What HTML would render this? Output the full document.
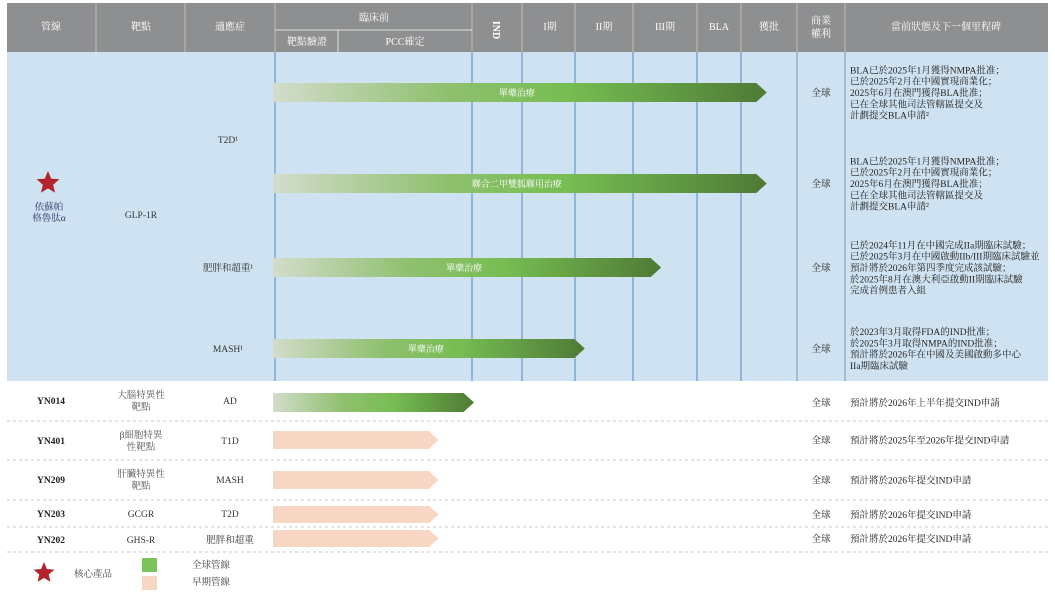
<!DOCTYPE html>
<html><head><meta charset="utf-8">
<style>
body{margin:0;width:1055px;height:599px;background:#fff;overflow:hidden;font-family:"Liberation Serif","Noto Serif CJK SC","Noto Sans CJK TC",serif;}
#c{position:absolute;left:0;top:0}
</style></head><body>
<svg id="c" width="1055" height="599" xmlns="http://www.w3.org/2000/svg">
<defs>
<linearGradient id="gr" x1="0" x2="1" y1="0" y2="0">
<stop offset="0" stop-color="#d3dccb"/><stop offset="0.35" stop-color="#8fc06f"/><stop offset="0.6" stop-color="#76bd52"/><stop offset="1" stop-color="#4e7a35"/>
</linearGradient>
</defs>
<g id="hdr"></g>
<g id="body"></g>
</svg>
<script>
const NS="http://www.w3.org/2000/svg";
const svg=document.getElementById('c');
function mk(tag,attrs,parent,text){const e=document.createElementNS(NS,tag);for(const k in attrs)e.setAttribute(k,attrs[k]);if(text!==undefined)e.textContent=text;(parent||svg).appendChild(e);return e;}
const stageEdges=[275,472,522,575,633,697,741,797];
function xStage(v){const i=Math.min(Math.floor(v),6);return stageEdges[i]+(v-i)*(stageEdges[i+1]-stageEdges[i]);}
// data
const arrowLabels=["單藥治療","聯合二甲雙胍聯用治療","單藥治療","單藥治療","","","","",""];
const arrowProgress=[6.46,6.46,4.44,3.17,1.04,0.83,0.83,0.83,0.83];
const arrowType=["g","g","g","g","g","p","p","p","p"];
const arrowY=[83,174,258,339,393,431,471,506,530];
const arrowH=[19,19,19,19,19,18,18,17,17];
const rights=["全球","全球","全球","全球","全球","全球","全球","全球","全球"];
const statusTexts=[
["BLA已於2025年1月獲得NMPA批准；","已於2025年2月在中國實現商業化；","2025年6月在澳門獲得BLA批准；","已在全球其他司法管轄區提交及","計劃提交BLA申請²"],
["BLA已於2025年1月獲得NMPA批准；","已於2025年2月在中國實現商業化；","2025年6月在澳門獲得BLA批准；","已在全球其他司法管轄區提交及","計劃提交BLA申請²"],
["已於2024年11月在中國完成IIa期臨床試驗；","已於2025年3月在中國啟動IIb/III期臨床試驗並","預計將於2026年第四季度完成該試驗；","於2025年8月在澳大利亞啟動II期臨床試驗","完成首例患者入組"],
["於2023年3月取得FDA的IND批准；","於2025年3月取得NMPA的IND批准；","預計將於2026年在中國及美國啟動多中心","IIa期臨床試驗"],
["預計將於2026年上半年提交IND申請"],["預計將於2025年至2026年提交IND申請"],["預計將於2026年提交IND申請"],["預計將於2026年提交IND申請"],["預計將於2026年提交IND申請"]];
mk('rect',{x:7,y:52,width:1041,height:329,fill:'#cfe2f1'});
const hdr=document.getElementById('hdr');
svg.appendChild(hdr);
mk('rect',{x:7,y:3,width:1041,height:49,fill:'#8e8f91'},hdr);
const hc=[96,185,275,472,522,575,633,697,741,797,845];
hc.forEach(x=>mk('line',{x1:x,y1:3,x2:x,y2:52,stroke:'#bdbdbd','stroke-width':1},hdr));
mk('line',{x1:275,y1:30,x2:472,y2:30,stroke:'#e0e0e0'},hdr);
mk('line',{x1:338,y1:30,x2:338,y2:52,stroke:'#e0e0e0'},hdr);
const ht=[[51,30,"管線"],[141,30,"靶點"],[230,30,"適應症"],[374,21,"臨床前"],[307,45,"靶點驗證"],[405,45,"PCC確定"],[550,30,"I期"],[604,30,"II期"],[665,30,"III期"],[719,30,"BLA"],[769,30,"獲批"],[821,24,"商業"],[821,37,"權利"],[946,30,"當前狀態及下一個里程碑"]];
ht.forEach(t=>{const e=mk('text',{x:t[0],y:t[1],fill:'#fff','font-size':10,'text-anchor':'middle'},hdr,t[2]);});
const ind=mk('text',{x:0,y:0,fill:'#fff','font-size':10,'font-weight':'bold','text-anchor':'middle',transform:'translate(493,30) rotate(90)'},hdr,"IND");

[275,472,522,575,633,697,741].forEach(x=>mk('line',{x1:x,y1:52,x2:x,y2:381,stroke:'#7ea6d8','stroke-width':1.5}));
mk('line',{x1:797,y1:52,x2:797,y2:381,stroke:'#8aa2bd','stroke-width':1.2});
mk('line',{x1:845,y1:52,x2:845,y2:381,stroke:'#8aa2bd','stroke-width':1.2});
[421,460,500,527,552].forEach(y=>mk('line',{x1:7,y1:y,x2:1048,y2:y,stroke:'#c8c8c8','stroke-dasharray':'3,3'}));
function star(cx,cy,r,name){let p=[];for(let i=0;i<10;i++){const rr=i%2?r*0.45:r;const a=-Math.PI/2+i*Math.PI/5;p.push((cx+rr*Math.cos(a)).toFixed(1)+','+(cy+rr*Math.sin(a)).toFixed(1));}const s=mk('polygon',{points:p.join(' '),fill:'#b3232e'});}
star(48,183,12,'core-product-star');
const lt=[[49,210,"依蘇帕",'#333b6a'],[49,221,"格魯肽α",'#333b6a'],[141,218,"GLP-1R",'#333'],[228,143,"T2D¹",'#333'],[228,271,"肥胖和超重¹",'#333'],[228,352,"MASH¹",'#333'],
[51,404,"YN014",'#222'],[141,398,"大腦特異性",'#555'],[141,410,"靶點",'#555'],[230,404,"AD",'#333'],
[51,444,"YN401",'#222'],[141,438,"β細胞特異",'#555'],[141,450,"性靶點",'#555'],[230,444,"T1D",'#333'],
[51,483,"YN209",'#222'],[141,477,"肝臟特異性",'#555'],[141,489,"靶點",'#555'],[230,483,"MASH",'#333'],
[51,517,"YN203",'#222'],[141,517,"GCGR",'#333'],[230,517,"T2D",'#333'],
[51,543,"YN202",'#222'],[141,543,"GHS-R",'#333'],[230,543,"肥胖和超重",'#333']];
lt.forEach(t=>{const e=mk('text',{x:t[0],y:t[1],fill:t[3],'font-size':9.5,'text-anchor':'middle','font-weight':t[3]=='#222'?'bold':'normal'},svg,t[2]);});
const body=document.getElementById('body');
svg.appendChild(body);
arrowProgress.forEach((v,i)=>{
 const x0=273,x1=xStage(v),y=arrowY[i],h=arrowH[i],tip=h*0.55;
 const pts=`${x0},${y} ${x1-tip},${y} ${x1},${y+h/2} ${x1-tip},${y+h} ${x0},${y+h}`;
 const a=mk('polygon',{points:pts,fill:arrowType[i]=='g'?'url(#gr)':'#f7d6c4'},body);
 
 
 if(arrowLabels[i]){const t=mk('text',{x:(x0+x1)/2-3,y:y+h/2+3.5,fill:'#fff','font-size':9,'text-anchor':'middle'},body,arrowLabels[i]);
 
 }
 const r=mk('text',{x:821,y:y+h/2+3.5,fill:'#222','font-size':9.5,'text-anchor':'middle'},body,rights[i]);
 
 
 const st=statusTexts[i];
 const lh=11.3;
 const first=y+h/2+3.5-(st.length-1)*lh/2;
 st.forEach((s,j)=>{const e=mk('text',{x:850,y:first+j*lh,fill:'#222','font-size':9.5},body,s);
 
 });
});
star(44,573,11,'legend-star');
const lg=[[93,577,"核心產品"],[192,568,"全球管線"],[192,585,"早期管線"]];
lg.forEach(t=>{const e=mk('text',{x:t[0],y:t[1],fill:'#444','font-size':9.5,'text-anchor':t[0]==93?'middle':'start'},svg,t[2]);});
const g1=mk('rect',{x:142,y:558,width:15,height:14,fill:'#7cc35a'});

const g2=mk('rect',{x:142,y:576,width:15,height:14,fill:'#f7d6c4'});

</script>
</body></html>
